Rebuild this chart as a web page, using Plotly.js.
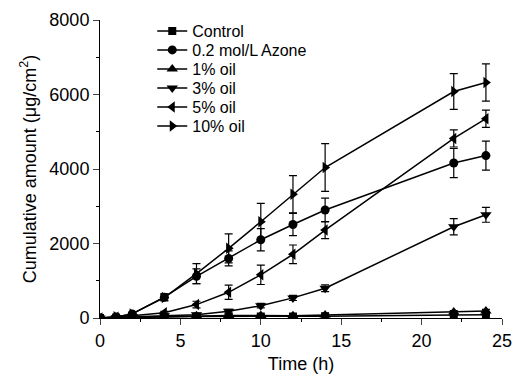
<!DOCTYPE html>
<html>
<head>
<meta charset="utf-8">
<script src="https://cdn.plot.ly/plotly-3.0.1.min.js"></script>
<style>html,body{margin:0;padding:0;background:#fff;}#chart{width:512px;height:374px;}</style>
</head>
<body>
<div id="chart"></div>
<script>
var time = [0, 1, 2, 4, 6, 8, 10, 12, 14, 22, 24];
var seriesNames = ["Control", "0.2 mol/L Azone", "1% oil", "3% oil", "5% oil", "10% oil"];
var control  = [0, 10, 30, 30, 40, 40, 40, 40, 50, 80, 90];
var azone    = [0, 30, 110, 560, 1120, 1600, 2100, 2510, 2900, 4160, 4360];
var oil1     = [0, 10, 30, 40, 60, 70, 70, 60, 80, 160, 190];
var oil3     = [0, 10, 40, 60, 90, 180, 330, 540, 800, 2450, 2770];
var oil5     = [0, 20, 60, 140, 360, 690, 1160, 1710, 2360, 4820, 5350];
var oil10    = [0, 30, 110, 550, 1190, 1870, 2585, 3320, 4040, 6080, 6320];
var errControl = [0, 5, 10, 10, 10, 10, 10, 10, 10, 20, 20];
var errAzone   = [0, 10, 30, 90, 200, 200, 300, 300, 320, 390, 390];
var errOil1    = [0, 5, 10, 10, 15, 15, 15, 15, 20, 40, 40];
var errOil3    = [0, 5, 10, 20, 30, 50, 60, 70, 90, 220, 200];
var errOil5    = [0, 10, 20, 40, 90, 190, 260, 250, 230, 230, 230];
var errOil10   = [0, 10, 30, 90, 270, 390, 490, 500, 640, 480, 500];

var values = [control, azone, oil1, oil3, oil5, oil10];
var errors = [errControl, errAzone, errOil1, errOil3, errOil5, errOil10];
var symbols = ["square", "circle", "triangle-up", "triangle-down", "triangle-left", "triangle-right"];
var sizes = [8, 9, 10, 10, 10, 10];

var traces = values.map(function (v, i) {
  return {
    x: time, y: v, name: seriesNames[i], type: "scatter", mode: "lines+markers",
    line: {color: "#000", width: 1.5},
    marker: {symbol: symbols[i], size: sizes[i], color: "#000"},
    error_y: {type: "data", array: errors[i], visible: true, color: "#000", thickness: 1.2, width: 4}
  };
});

var layout = {
  width: 512, height: 374,
  margin: {l: 100, r: 10, t: 20, b: 56},
  paper_bgcolor: "#fff", plot_bgcolor: "#fff",
  font: {family: "Liberation Sans, Arial, sans-serif", color: "#000", size: 18},
  showlegend: true,
  legend: {x: 0.13, y: 1.0, xanchor: "left", yanchor: "top", bgcolor: "rgba(0,0,0,0)", font: {size: 16}, tracegroupgap: 0},
  xaxis: {
    range: [0, 25], tickvals: [0, 5, 10, 15, 20, 25], ticks: "outside", ticklen: 6, tickwidth: 1,
    showline: true, linecolor: "#000", linewidth: 1, showgrid: false, zeroline: false,
    minor: {dtick: 2.5, ticks: "outside", ticklen: 3, tickcolor: "#000", showgrid: false},
    tickfont: {size: 18}, ticklabeloverflow: "allow",
    title: {text: "Time (h)", font: {size: 18}, standoff: 12}
  },
  yaxis: {
    range: [0, 8000], tickvals: [0, 2000, 4000, 6000, 8000], ticks: "outside", ticklen: 6, tickwidth: 1,
    showline: true, linecolor: "#000", linewidth: 1, showgrid: false, zeroline: false,
    minor: {dtick: 1000, ticks: "outside", ticklen: 3, tickcolor: "#000", showgrid: false},
    tickfont: {size: 18}, ticklabeloverflow: "allow",
    title: {text: "Cumulative amount (μg/cm<sup>2</sup>)", font: {size: 18}, standoff: 8}
  }
};

Plotly.newPlot("chart", traces, layout, {staticPlot: true, displayModeBar: false}).then(function (gd) {
  var items = gd.querySelectorAll(".legend .traces");
  if (!items.length) return;
  var m = /translate\(\s*([-\d.]+)[ ,]+([-\d.]+)\s*\)/.exec(items[0].getAttribute("transform") || "");
  if (!m) return;
  var x0 = parseFloat(m[1]), y0 = parseFloat(m[2]) - 6;
  for (var i = 0; i < items.length; i++) {
    items[i].setAttribute("transform", "translate(" + x0 + "," + (y0 + 19 * i) + ")");
  }
});
</script>
</body>
</html>
